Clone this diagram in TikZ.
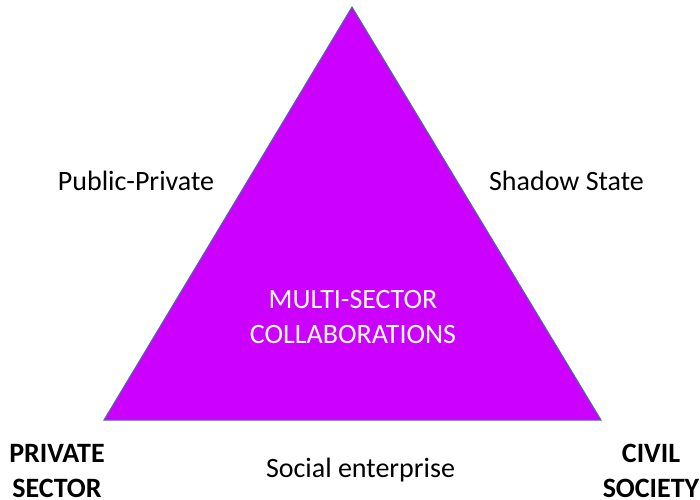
\documentclass[tikz,border=0pt]{standalone}
\usepackage{fontspec}
\setmainfont{Carlito}
\usetikzlibrary{calc,positioning}
\definecolor{triFill}{RGB}{204,0,255}
\definecolor{triEdge}{RGB}{65,113,156}
\tikzset{
  lbl/.style={anchor=base, font=\fontsize{28}{35}\selectfont, inner sep=0pt},
  sector/.style={lbl, font=\fontsize{28}{35}\selectfont\bfseries, align=center},
  inner/.style={lbl, text=white, align=center}
}

\begin{document}
\begin{tikzpicture}[x=1pt,y=-1pt]
  \useasboundingbox (0,0) rectangle (700,499);
  \coordinate (Top) at (352,7);
  \coordinate (Priv) at (104,420);
  \coordinate (Civ) at (601,420);
  \draw[triEdge, fill=triFill, line width=1pt] (Top) -- (Civ) -- (Priv) -- cycle;
  % labels
  \node[lbl] (pubpriv) at (136,190.7) {Public-Private};
  \node[lbl] (shadow) at (566.5,190.7) {Shadow State};
  \node[inner] (msc) at (353,343) {MULTI-SECTOR\\COLLABORATIONS};
  \node[sector] (private) at (57,497) {PRIVATE\\SECTOR};
  \node[sector] (civil) at (651,497) {CIVIL\\SOCIETY};
  \node[lbl] (social) at (360.5,477) {Social enterprise};
\end{tikzpicture}
\end{document}
